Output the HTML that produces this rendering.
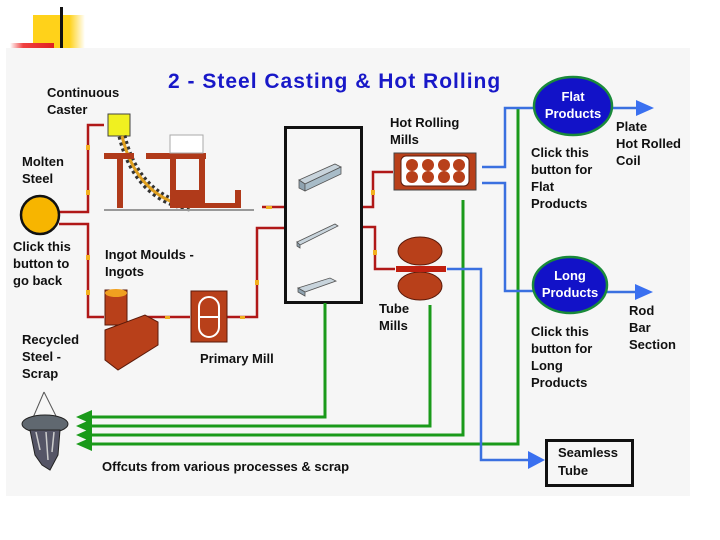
<!DOCTYPE html>
<html><head><meta charset="utf-8"><style>
html,body{margin:0;padding:0;background:#fff;width:720px;height:540px;overflow:hidden}
svg{display:block}
text{font-family:"Liberation Sans",sans-serif;font-size:13px;fill:#111}
.b{font-weight:bold}
</style></head><body>
<svg width="720" height="540" viewBox="0 0 720 540">
<defs>
<linearGradient id="yg" x1="0" x2="1"><stop offset="0" stop-color="#ffd21a"/><stop offset="0.7" stop-color="#ffd21a"/><stop offset="1" stop-color="#fff"/></linearGradient>
<linearGradient id="rg" x1="0" x2="1"><stop offset="0" stop-color="#fff"/><stop offset="0.3" stop-color="#f04040"/><stop offset="1" stop-color="#e02020"/></linearGradient>
</defs>
<rect x="33" y="15" width="52" height="33" fill="url(#yg)"/>
<rect x="10" y="43" width="44" height="5" fill="url(#rg)"/>
<rect x="60" y="7" width="3" height="41" fill="#111"/>
<rect x="6" y="48" width="684" height="448" fill="#f6f6f6"/>

<text x="168" y="88" style="font-size:21px;font-weight:bold;fill:#1818c8;letter-spacing:1px">2 - Steel Casting &amp; Hot Rolling</text>

<g font-weight="bold">
<text x="47" y="97">Continuous</text><text x="47" y="114">Caster</text>
<text x="22" y="166">Molten</text><text x="22" y="183">Steel</text>
<text x="13" y="251">Click this</text><text x="13" y="268">button to</text><text x="13" y="285">go back</text>
<text x="105" y="259">Ingot Moulds -</text><text x="105" y="276">Ingots</text>
<text x="22" y="344">Recycled</text><text x="22" y="361">Steel -</text><text x="22" y="378">Scrap</text>
<text x="200" y="363">Primary Mill</text>
<text x="299" y="153">Blooms</text><text x="299" y="215">Billets</text><text x="299" y="273">Slabs</text>
<text x="390" y="127">Hot Rolling</text><text x="390" y="144">Mills</text>
<text x="379" y="313">Tube</text><text x="379" y="330">Mills</text>
<text x="531" y="157">Click this</text><text x="531" y="174">button for</text><text x="531" y="191">Flat</text><text x="531" y="208">Products</text>
<text x="616" y="131">Plate</text><text x="616" y="148">Hot Rolled</text><text x="616" y="165">Coil</text>
<text x="531" y="336">Click this</text><text x="531" y="353">button for</text><text x="531" y="370">Long</text><text x="531" y="387">Products</text>
<text x="629" y="315">Rod</text><text x="629" y="332">Bar</text><text x="629" y="349">Section</text>
<text x="102" y="471">Offcuts from various processes &amp; scrap</text>
</g>

<g stroke="#b01818" stroke-width="2.5" fill="none">
<polyline points="59,212 88,212 88,125 104,125"/>
<polyline points="59,224 88,224 88,317 104,317"/>
<polyline points="145,317 190,317"/>
<polyline points="226,317 257,317 257,228 284,228"/>
<polyline points="262,207 284,207"/>
<polyline points="362,207 373,207 373,172 393,172"/>
<polyline points="362,227 375,227 375,269 395,269"/>
</g>
<g fill="#f2b020">
<rect x="86" y="145" width="4" height="5"/><rect x="86" y="190" width="4" height="5"/><rect x="86" y="255" width="4" height="5"/><rect x="86" y="290" width="4" height="5"/>
<rect x="165" y="316" width="5" height="3"/><rect x="240" y="316" width="5" height="3"/><rect x="255" y="280" width="4" height="5"/><rect x="266" y="206" width="6" height="3"/><rect x="371" y="190" width="4" height="5"/><rect x="373" y="250" width="4" height="5"/>
</g>

<rect x="285.5" y="127.5" width="76" height="175" fill="#f6f6f6" stroke="#111" stroke-width="3"/>
<g stroke="#555" stroke-width="0.8">
<polygon points="299,180 335,164 341,167 305,184" fill="#c8d4dc"/><polygon points="299,180 305,184 305,191 299,188" fill="#8fa3b0"/><polygon points="305,184 341,167 341,174 305,191" fill="#a8bcc8"/>
<polygon points="297,242 335,224 338,226 300,245" fill="#c8d4dc"/><polygon points="297,242 300,245 300,248 297,246" fill="#8fa3b0"/>
<polygon points="298,288 330,278 336,281 305,292" fill="#c8d4dc"/><polygon points="298,288 305,292 305,296 298,292" fill="#8fa3b0"/>
</g>

<circle cx="40" cy="215" r="19" fill="#f7b500" stroke="#111" stroke-width="2.5"/>

<g>
<rect x="108" y="114" width="22" height="22" fill="#f0f020" stroke="#444"/>
<path d="M122,136 C130,170 150,200 190,207" stroke="#333" stroke-width="9" fill="none" stroke-dasharray="3,3"/>
<path d="M122,136 C130,170 150,200 190,207" stroke="#e0a020" stroke-width="3" fill="none"/>
<rect x="104" y="153" width="30" height="6" fill="#b03a1a"/><rect x="117" y="153" width="6" height="55" fill="#b03a1a"/>
<rect x="146" y="153" width="60" height="6" fill="#b03a1a"/><rect x="170" y="153" width="6" height="55" fill="#b03a1a"/><rect x="199" y="153" width="6" height="55" fill="#b03a1a"/>
<rect x="176" y="190" width="28" height="18" fill="#b03a1a"/>
<rect x="170" y="135" width="33" height="18" fill="#fff" stroke="#aaa"/>
<rect x="190" y="203" width="50" height="5" fill="#b03a1a"/><rect x="235" y="190" width="6" height="18" fill="#b03a1a"/>
<rect x="104" y="209" width="150" height="2" fill="#999"/>
</g>

<g>
<rect x="105" y="290" width="22" height="35" fill="#b8401a" stroke="#5a1a0a"/>
<ellipse cx="116" cy="293" rx="11" ry="4" fill="#f0a020"/>
<polygon points="105,330 145,315 158,322 158,345 118,370 105,360" fill="#b8401a" stroke="#5a1a0a"/>
</g>
<rect x="191" y="291" width="36" height="51" fill="#b8401a" stroke="#5a1a0a"/>
<rect x="199" y="297" width="20" height="40" rx="10" fill="#b8401a" stroke="#fff" stroke-width="2"/>
<line x1="199" y1="317" x2="219" y2="317" stroke="#fff" stroke-width="2"/>

<rect x="394" y="153" width="82" height="37" fill="#b8401a" stroke="#444"/>
<rect x="401" y="156" width="68" height="30" rx="5" fill="#fff" stroke="#5a1a0a"/>
<g fill="#b8401a"><circle cx="412" cy="165" r="6"/><circle cx="412" cy="177" r="6"/><circle cx="428" cy="165" r="6"/><circle cx="428" cy="177" r="6"/><circle cx="444" cy="165" r="6"/><circle cx="444" cy="177" r="6"/><circle cx="459" cy="165" r="6"/><circle cx="459" cy="177" r="6"/></g>

<ellipse cx="420" cy="251" rx="22" ry="14" fill="#b8401a" stroke="#5a1a0a"/>
<ellipse cx="420" cy="286" rx="22" ry="14" fill="#b8401a" stroke="#5a1a0a"/>
<rect x="396" y="266" width="50" height="6" fill="#c02010"/>

<g>
<line x1="44" y1="392" x2="32" y2="420" stroke="#555"/><line x1="44" y1="392" x2="58" y2="420" stroke="#555"/>
<ellipse cx="45" cy="424" rx="23" ry="9" fill="#606870" stroke="#222"/>
<path d="M30,430 L60,430 L58,455 L50,470 L42,465 L35,455 Z" fill="#556" stroke="#222"/>
<path d="M36,432 L40,450 M46,432 L48,460 M54,432 L52,452" stroke="#ccc" stroke-width="1.5"/>
</g>

<g stroke="#1a9a1a" stroke-width="3" fill="none">
<polyline points="325,303 325,417 80,417"/>
<polyline points="430,305 430,426 80,426"/>
<polyline points="463,200 463,435 80,435"/>
<polyline points="518,108 518,444 80,444"/>
</g>
<g fill="#1a9a1a">
<polygon points="76,417 92,410 92,424"/><polygon points="76,426 92,419 92,433"/><polygon points="76,435 92,428 92,442"/><polygon points="76,444 92,437 92,451"/>
</g>

<g stroke="#3a70e0" stroke-width="2.5" fill="none">
<polyline points="482,167 505,167 505,108 535,108"/>
<polyline points="482,183 505,183 505,291 533,291"/>
<polyline points="447,269 481,269 481,460 530,460"/>
<line x1="610" y1="108" x2="640" y2="108"/>
<line x1="607" y1="292" x2="638" y2="292"/>
</g>
<g fill="#3a70f0">
<polygon points="654,108 636,100 636,116"/><polygon points="653,292 635,284 635,300"/><polygon points="545,460 528,451 528,469"/>
</g>

<ellipse cx="573" cy="106" rx="39" ry="29" fill="#1212c8" stroke="#1a8a3a" stroke-width="2.5"/>
<text x="573" y="101" text-anchor="middle" style="fill:#fff;font-weight:bold">Flat</text>
<text x="573" y="118" text-anchor="middle" style="fill:#fff;font-weight:bold">Products</text>
<ellipse cx="570" cy="285" rx="37" ry="28" fill="#1212c8" stroke="#1a8a3a" stroke-width="2.5"/>
<text x="570" y="280" text-anchor="middle" style="fill:#fff;font-weight:bold">Long</text>
<text x="570" y="297" text-anchor="middle" style="fill:#fff;font-weight:bold">Products</text>

<rect x="546.5" y="440.5" width="86" height="45" fill="#f6f6f6" stroke="#111" stroke-width="3"/>
<text x="558" y="457" class="b">Seamless</text><text x="558" y="475" class="b">Tube</text>
</svg>
</body></html>
